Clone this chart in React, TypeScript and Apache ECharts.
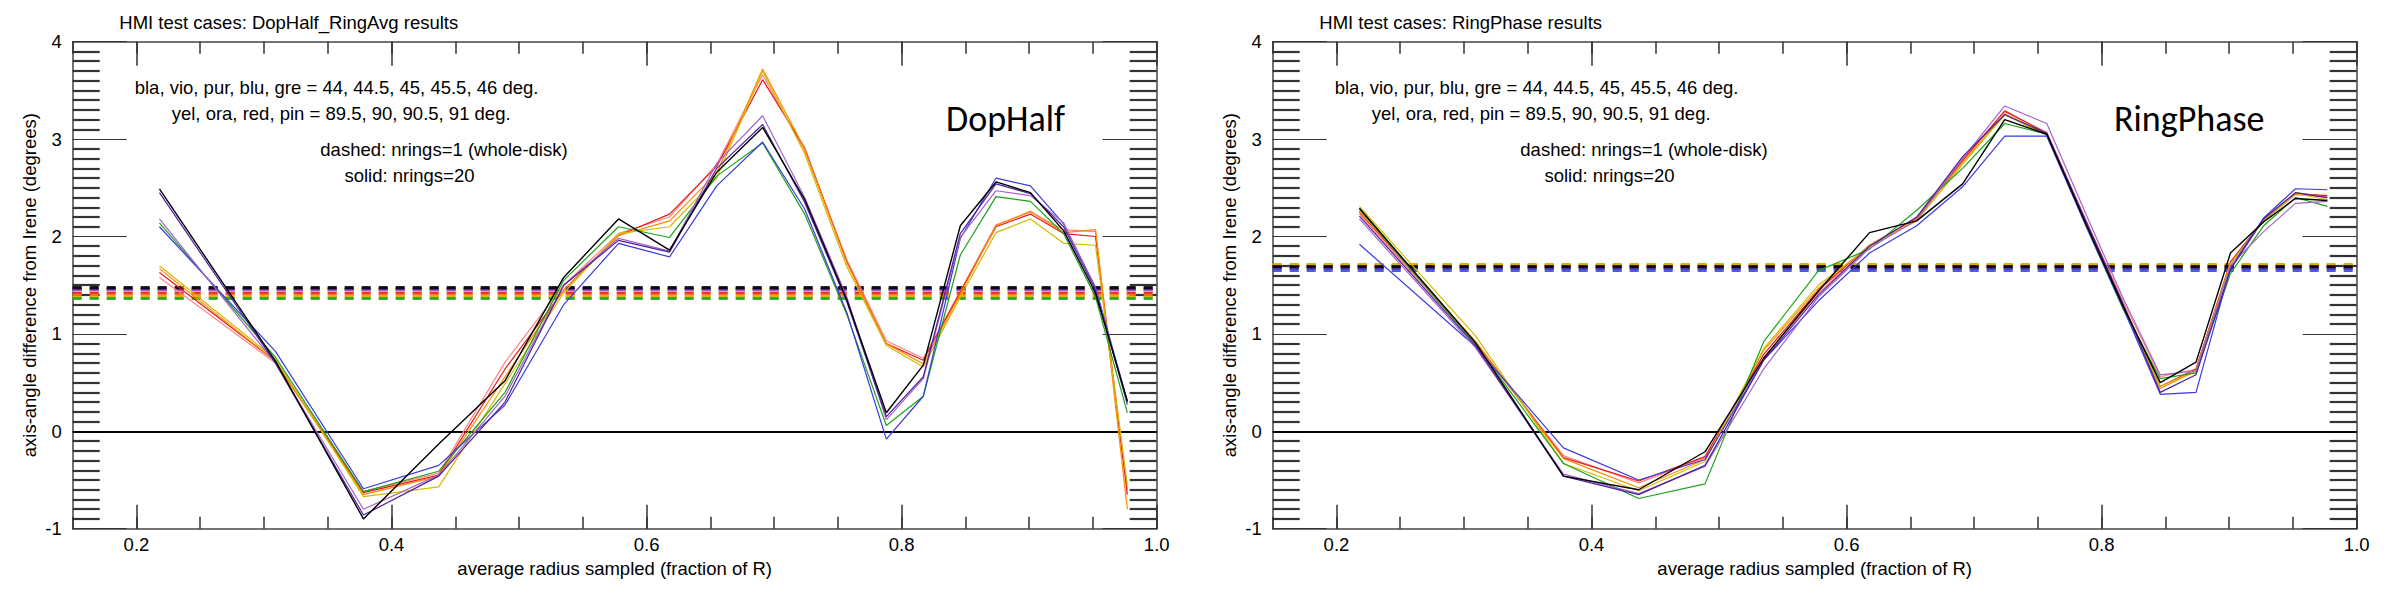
import React, { useEffect, useRef } from "react";
import * as echarts from "echarts";

// ---------- data ----------
const RADIUS = [0.218, 0.309, 0.378, 0.437, 0.489, 0.535, 0.578, 0.618, 0.655, 0.691, 0.724, 0.757, 0.788, 0.817, 0.846, 0.874, 0.901, 0.927, 0.952, 0.977];

const SERIES_NAMES = ["bla", "vio", "pur", "blu", "gre", "yel", "ora", "red", "pin"];
const SERIES_COLORS = ["#000000", "#5020a0", "#a564c8", "#3a3ae0", "#1aa31a", "#d2bc00", "#ff8a00", "#e8171c", "#ff8585"];

// DopHalf_RingAvg, nrings=20 (solid)
const DOP_BLA = [2.49, 0.72, -0.90, -0.13, 0.52, 1.58, 2.18, 1.86, 2.66, 3.12, 2.38, 1.35, 0.19, 0.68, 2.11, 2.56, 2.45, 2.06, 1.42, 0.31];
const DOP_VIO = [2.45, 0.70, -0.86, -0.46, 0.30, 1.50, 1.96, 1.84, 2.70, 3.15, 2.35, 1.33, 0.15, 0.56, 2.03, 2.54, 2.44, 2.10, 1.45, 0.29];
const DOP_PUR = [2.18, 0.70, -0.80, -0.45, 0.36, 1.50, 1.98, 1.85, 2.75, 3.24, 2.40, 1.38, 0.12, 0.54, 1.99, 2.47, 2.42, 2.14, 1.46, 0.27];
const DOP_BLU = [2.10, 0.82, -0.59, -0.35, 0.27, 1.30, 1.93, 1.79, 2.52, 2.97, 2.28, 1.22, -0.08, 0.36, 1.98, 2.60, 2.52, 2.13, 1.48, 0.31];
const DOP_GRE = [2.14, 0.76, -0.62, -0.41, 0.40, 1.55, 2.10, 1.99, 2.62, 2.96, 2.23, 1.20, 0.06, 0.36, 1.81, 2.41, 2.36, 2.03, 1.38, 0.19];
const DOP_YEL = [1.70, 0.74, -0.67, -0.57, 0.49, 1.42, 2.03, 2.10, 2.60, 3.70, 2.85, 1.69, 0.88, 0.66, 1.38, 2.04, 2.18, 1.93, 1.91, -0.55];
const DOP_ORA = [1.67, 0.72, -0.65, -0.46, 0.56, 1.45, 2.01, 2.16, 2.65, 3.72, 2.90, 1.73, 0.90, 0.69, 1.41, 2.11, 2.26, 2.04, 2.07, -0.80];
const DOP_RED = [1.63, 0.72, -0.63, -0.45, 0.64, 1.45, 2.01, 2.23, 2.72, 3.61, 2.91, 1.74, 0.90, 0.73, 1.43, 2.10, 2.23, 2.03, 2.00, -0.65];
const DOP_PIN = [1.58, 0.70, -0.62, -0.43, 0.71, 1.50, 2.03, 2.20, 2.74, 3.66, 2.88, 1.76, 0.93, 0.75, 1.44, 2.12, 2.25, 2.07, 2.05, -0.60];
// DopHalf_RingAvg, nrings=1 whole-disk (dashed)
const DOP_WHOLE = [1.48, 1.47, 1.46, 1.46, 1.37, 1.38, 1.40, 1.42, 1.44];

// RingPhase, nrings=20 (solid)
const RING_BLA = [2.29, 0.91, -0.46, -0.60, -0.21, 0.75, 1.44, 2.04, 2.16, 2.54, 3.20, 3.05, 2.12, 1.28, 0.50, 0.71, 1.83, 2.15, 2.39, 2.37];
const RING_VIO = [2.21, 0.88, -0.46, -0.65, -0.35, 0.73, 1.40, 1.90, 2.20, 2.82, 3.25, 3.06, 2.15, 1.30, 0.40, 0.58, 1.66, 2.18, 2.45, 2.40];
const RING_PUR = [2.18, 0.86, -0.44, -0.64, -0.36, 0.64, 1.38, 1.88, 2.17, 2.80, 3.34, 3.16, 2.22, 1.36, 0.58, 0.62, 1.70, 2.05, 2.34, 2.36];
const RING_BLU = [1.92, 0.87, -0.17, -0.50, -0.29, 0.73, 1.34, 1.83, 2.11, 2.51, 3.03, 3.03, 2.10, 1.26, 0.38, 0.40, 1.68, 2.19, 2.49, 2.48];
const RING_GRE = [2.28, 0.89, -0.33, -0.69, -0.54, 0.92, 1.65, 1.87, 2.27, 2.70, 3.16, 3.05, 2.10, 1.25, 0.54, 0.60, 1.62, 2.11, 2.40, 2.31];
const RING_YEL = [2.31, 0.98, -0.33, -0.61, -0.31, 0.85, 1.50, 1.90, 2.16, 2.74, 3.25, 3.04, 2.12, 1.28, 0.46, 0.62, 1.72, 2.16, 2.44, 2.38];
const RING_ORA = [2.26, 0.92, -0.28, -0.58, -0.29, 0.83, 1.47, 1.91, 2.18, 2.76, 3.26, 3.05, 2.13, 1.29, 0.44, 0.62, 1.72, 2.17, 2.45, 2.40];
const RING_RED = [2.25, 0.92, -0.27, -0.51, -0.26, 0.79, 1.45, 1.91, 2.19, 2.78, 3.29, 3.06, 2.14, 1.30, 0.46, 0.64, 1.74, 2.17, 2.44, 2.42];
const RING_PIN = [2.23, 0.90, -0.25, -0.53, -0.27, 0.76, 1.42, 1.90, 2.19, 2.80, 3.28, 3.07, 2.16, 1.33, 0.56, 0.64, 1.72, 2.16, 2.43, 2.41];
// RingPhase, nrings=1 whole-disk (dashed)
const RING_WHOLE = [1.69, 1.68, 1.68, 1.65, 1.67, 1.70, 1.71, 1.70, 1.70];

const X_MIN = 0.15;
const X_MAX = 1.0;
const X_STEP = 0.05;
const X_MAJOR_TICKS = [0.2, 0.4, 0.6, 0.8, 1.0];
const Y_MIN = -1;
const Y_MAX = 4;

const PANEL_TITLES = ["HMI test cases: DopHalf_RingAvg results", "HMI test cases: RingPhase results"];
const PANEL_TAGS = ["DopHalf", "RingPhase"];
const NOTES = [
  "bla, vio, pur, blu, gre = 44, 44.5, 45, 45.5, 46 deg.",
  "yel, ora, red, pin = 89.5, 90, 90.5, 91 deg.",
  "dashed: nrings=1 (whole-disk)",
  "solid: nrings=20",
];
const X_NAME = "average radius sampled (fraction of R)";
const Y_NAME = "axis-angle difference from Irene (degrees)";

const PANELS = [
  { solid: [DOP_BLA, DOP_VIO, DOP_PUR, DOP_BLU, DOP_GRE, DOP_YEL, DOP_ORA, DOP_RED, DOP_PIN], whole: DOP_WHOLE },
  { solid: [RING_BLA, RING_VIO, RING_PUR, RING_BLU, RING_GRE, RING_YEL, RING_ORA, RING_RED, RING_PIN], whole: RING_WHOLE },
];

// ---------- layout ----------
const FONT = '"Liberation Sans", Helvetica, Arial, sans-serif';
const TAG_FONT = 'Carlito, Lato, "Open Sans", sans-serif';
const GRID_LEFTS = [72.7, 1272.7];
const GRID_TOP = 41.7;
const GRID_W = 1084;
const GRID_H = 487;
const NOTE_POS = [
  { dx: 62, y: 87 },
  { dx: 99, y: 113 },
  { dx: 247.6, y: 149.7 },
  { dx: 271.7, y: 175 },
];
const TAG_DX = [873.3, 841.3];
const FS = 18.5;
const DRAW_ORDER = [8, 7, 6, 5, 4, 3, 2, 1, 0];

function buildOption() {
  const grid: any[] = [];
  const xAxis: any[] = [];
  const yAxis: any[] = [];
  const series: any[] = [];
  const graphic: any[] = [];

  const isMajor = (v: number) => Math.abs(v * 5 - Math.round(v * 5)) < 1e-6;

  GRID_LEFTS.forEach((left, gi) => {
    grid.push({ left, top: GRID_TOP, width: GRID_W, height: GRID_H, containLabel: false });

    const base = {
      type: "value",
      gridIndex: gi,
      min: X_MIN,
      max: X_MAX,
      interval: X_STEP,
      splitLine: { show: false },
      axisPointer: { show: false },
    };
    xAxis.push({
      ...base,
      position: "bottom",
      axisLine: { show: true, onZero: false, lineStyle: { color: "#444", width: 1.5 } },
      axisTick: { show: true, inside: true, length: 12, lineStyle: { color: "#333", width: 1.5 } },
      axisLabel: {
        show: true,
        margin: 6,
        color: "#000",
        fontSize: FS,
        fontFamily: FONT,
        formatter: (v: number) => (isMajor(v) ? v.toFixed(1) : ""),
      },
      name: X_NAME,
      nameLocation: "middle",
      nameGap: 26,
      nameTextStyle: { color: "#000", fontSize: FS, fontFamily: FONT },
    });
    xAxis.push({
      ...base,
      position: "bottom",
      axisLine: { show: false, onZero: false },
      axisTick: { show: true, inside: true, length: 24, customValues: X_MAJOR_TICKS, lineStyle: { color: "#333", width: 1.5 } },
      axisLabel: { show: false },
    });
    xAxis.push({
      ...base,
      position: "top",
      axisLine: { show: true, onZero: false, lineStyle: { color: "#444", width: 1.5 } },
      axisTick: { show: true, inside: true, length: 12, lineStyle: { color: "#333", width: 1.5 } },
      axisLabel: { show: false },
    });
    xAxis.push({
      ...base,
      position: "top",
      axisLine: { show: false, onZero: false },
      axisTick: { show: true, inside: true, length: 24, customValues: X_MAJOR_TICKS, lineStyle: { color: "#333", width: 1.5 } },
      axisLabel: { show: false },
    });

    const ybase = {
      type: "value",
      gridIndex: gi,
      min: Y_MIN,
      max: Y_MAX,
      interval: 1,
      splitLine: { show: false },
      axisLine: { show: true, onZero: false, lineStyle: { color: "#444", width: 1.5 } },
      axisTick: { show: true, inside: true, length: 54, lineStyle: { color: "#333", width: 1 } },
      minorTick: { show: true, splitNumber: 10, length: 27, lineStyle: { color: "#333", width: 2.2 } },
    };
    yAxis.push({
      ...ybase,
      position: "left",
      axisLabel: { show: true, margin: 11, color: "#000", fontSize: FS, fontFamily: FONT },
      name: Y_NAME,
      nameLocation: "middle",
      nameGap: 34,
      nameTextStyle: { color: "#000", fontSize: FS, fontFamily: FONT },
    });
    yAxis.push({
      ...ybase,
      position: "right",
      axisLabel: { show: false },
    });

    const panel = PANELS[gi];
    DRAW_ORDER.forEach((si, order) => {
      const vals = panel.solid[si];
      const color = SERIES_COLORS[si];
      const markData: any[] = [{ yAxis: panel.whole[si] }];
      if (si === 0) {
        markData.push({ yAxis: 0, lineStyle: { type: "solid", width: 2.2, color: "#000", opacity: 1 } });
      }
      series.push({
        type: "line",
        name: SERIES_NAMES[si],
        xAxisIndex: gi * 4,
        yAxisIndex: gi * 2,
        data: RADIUS.map((x, i) => [x, vals[i]]),
        symbol: "none",
        showSymbol: false,
        z: 3 + order,
        lineStyle: { color, width: si === 0 ? 1.4 : 1.2 },
        itemStyle: { color },
        markLine: {
          silent: true,
          symbol: "none",
          label: { show: false },
          z: 2,
          lineStyle: { color, width: 3, type: [9, 8], opacity: 0.85 },
          data: markData,
        },
      });
    });

    graphic.push({
      type: "text",
      x: left + 46.6,
      y: 22.7,
      style: { text: PANEL_TITLES[gi], font: `${FS}px ${FONT}`, fill: "#000", textAlign: "left", textVerticalAlign: "middle" },
    });
    NOTES.forEach((t, ni) => {
      graphic.push({
        type: "text",
        x: left + NOTE_POS[ni].dx,
        y: NOTE_POS[ni].y,
        style: { text: t, font: `${FS}px ${FONT}`, fill: "#000", textAlign: "left", textVerticalAlign: "middle" },
      });
    });
    graphic.push({
      type: "text",
      x: left + TAG_DX[gi],
      y: 119,
      style: { text: PANEL_TAGS[gi], font: `36px ${TAG_FONT}`, fill: "#000", textAlign: "left", textVerticalAlign: "middle" },
    });
  });

  return {
    animation: false,
    backgroundColor: "#ffffff",
    grid,
    xAxis,
    yAxis,
    series,
    graphic,
  };
}

export default function App() {
  const ref = useRef<HTMLDivElement>(null);
  useEffect(() => {
    if (!ref.current) return;
    const chart = echarts.init(ref.current, null, { renderer: "svg" });
    chart.setOption(buildOption() as any);
    return () => {
      chart.dispose();
    };
  }, []);
  return (
    <div
      ref={ref}
      style={{ position: "absolute", left: 0, top: 0, width: 2392, height: 600, background: "#fff" }}
    />
  );
}
